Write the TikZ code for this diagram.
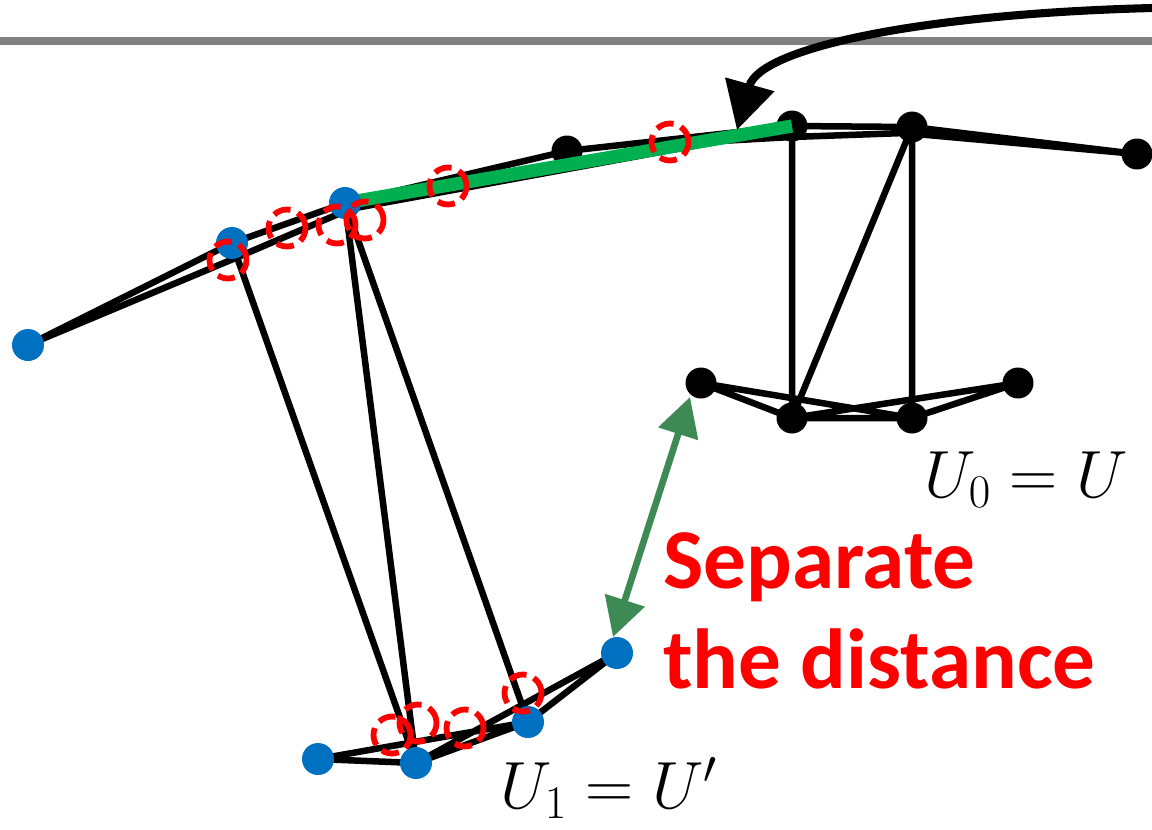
\documentclass[tikz,border=0pt]{standalone}
\usepackage{fix-cm}
\usepackage{fontspec}
\newfontfamily\calib{Carlito}
\usetikzlibrary{arrows.meta}
\definecolor{dotblue}{RGB}{0,112,192}
\definecolor{linegreen}{RGB}{0,176,80}
\definecolor{arrowgreen}{RGB}{62,138,84}

\begin{document}
\begin{tikzpicture}[x=0.02cm, y=-0.02cm,
  bdot/.style={circle, fill=black, inner sep=0pt, minimum size=0.62cm},
  udot/.style={circle, fill=dotblue, inner sep=0pt, minimum size=0.64cm},
  link/.style={line width=3.7pt, line join=round},
  ring/.style={red, line width=3.3pt, dash pattern=on 10pt off 4.5pt},
  mlabel/.style={font=\fontsize{38}{42}\selectfont, inner sep=0pt},
  warn/.style={font=\calib\bfseries\fontsize{48.5}{56.7}\selectfont, text=red, align=left, inner sep=0pt}
]
\useasboundingbox (0,0) rectangle (1152,829);

\draw[gray, line width=4.2pt] (0,41) -- (1152,41);

% mesh U0
\coordinate (a1) at (567,151);
\coordinate (a2) at (792,126);
\coordinate (a3) at (912,127);
\coordinate (a4) at (1137,154);
\coordinate (b1) at (701,383);
\coordinate (b2) at (792,418);
\coordinate (b3) at (912,418);
\coordinate (b4) at (1018,383);
% mesh U1
\coordinate (c1) at (28,345);
\coordinate (c2) at (232,243);
\coordinate (c3) at (345,203);
\coordinate (d1) at (318,759);
\coordinate (d2) at (416,763);
\coordinate (d3) at (528,722);
\coordinate (d4) at (617,653);
% second top line
\coordinate (p1) at (238,257);
\coordinate (p2) at (350,209);
\coordinate (q1) at (720,141);
\coordinate (p3) at (792,137);
\coordinate (p4) at (905,133);

\draw[link] (c1) -- (c2) -- (c3) -- (a1) -- (a2) -- (a3) -- (a4);
\draw[link] (c1) -- (p1) -- (p2) -- (q1) -- (p3) -- (p4) -- (a4);
\draw[link] (a2) -- (b2) (a3) -- (b2) (a3) -- (b3);
\draw[link] (b1) -- (b2) -- (b3) -- (b4) -- (b2) (b1) -- (b3);
\draw[link] (c2) -- (d2) (c3) -- (d2) (c3) -- (d3);
\draw[link] (d1) -- (d2) -- (d3) -- (d4) -- (d2) (d1) -- (d3);

\foreach \n in {a1,a2,a3,a4,b1,b2,b3,b4}
  \node[bdot] at (\n) {};

\draw[linegreen, line width=7.5pt] (c3) -- (a2);

\foreach \n in {c1,c2,c3,d1,d2,d3,d4}
  \node[udot] at (\n) {};

% matched points
\foreach \p in {(228,260),(287,228),(337,225),(365,220),(448,186),(670,142),
                (392,735),(418,723),(465,728),(523,693)}
  \draw[ring] \p circle[radius=0.37cm];

\coordinate (src) at (1152,8);
\draw[line width=4.6pt, -{Triangle[length=27pt, width=28pt]}]
  (src) .. controls (920,14) and (760,48) .. (737,130);

\draw[arrowgreen, line width=3.8pt, {Triangle[length=22pt, width=23pt]}-{Triangle[length=22pt, width=23pt]}]
  (690,397) -- (613,637);

\node[mlabel, anchor=base west] (u0) at (924,497) {$U_0 = U$};
\node[mlabel, anchor=base west] (u1) at (500,808) {$U_1 = U'$};
\node[warn, anchor=base west] (sep) at (663,688) {Separate\\the distance};

\end{tikzpicture}
\end{document}
